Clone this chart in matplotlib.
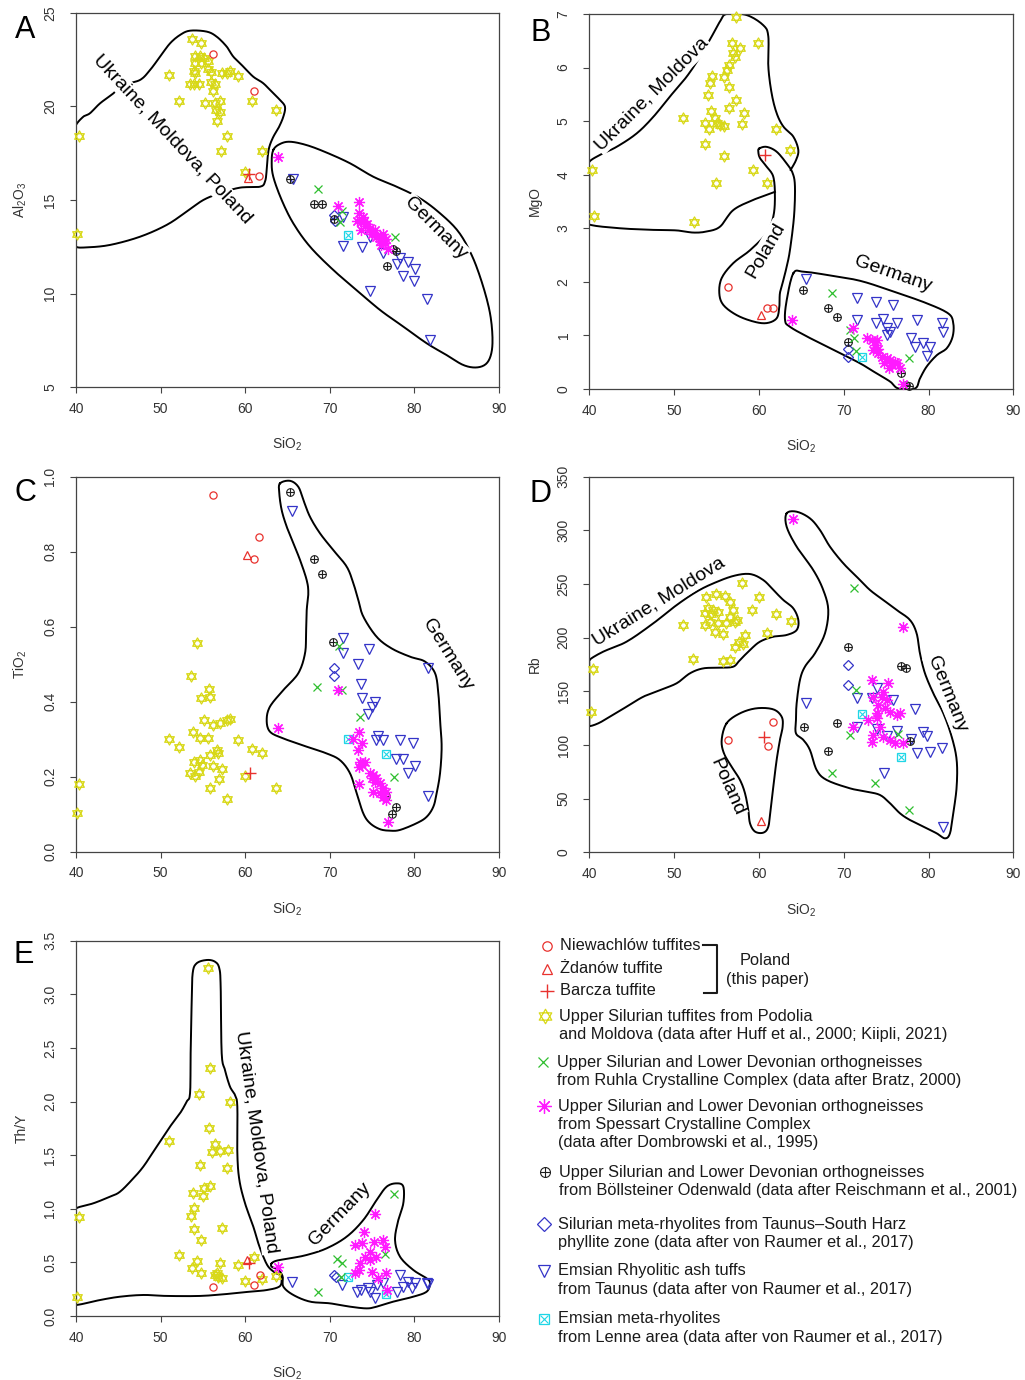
import numpy as np
import matplotlib
matplotlib.use("Agg")
import matplotlib.pyplot as plt
from matplotlib.path import Path

plt.rcParams['font.family'] = ['Liberation Sans', 'DejaVu Sans']
plt.rcParams['mathtext.fontset'] = 'custom'
plt.rcParams['mathtext.rm'] = 'Liberation Sans'
plt.rcParams['mathtext.it'] = 'Liberation Sans'

# ---------------- data (SiO2, y) ----------------
# A: Al2O3
A_niew = [(56.2, 22.8), (61.0, 20.8), (61.6, 16.3)]
A_zdan = [(60.3, 16.2)]
A_barcza = [(60.5, 16.4)]
A_podolia = [(53.7, 23.6), (54.8, 23.4), (54.1, 22.7), (54.7, 22.7), (55.1, 22.6), (54.1, 22.3),
             (54.8, 22.3), (55.6, 22.4), (53.9, 21.9), (54.1, 21.8), (55.6, 22.0), (55.9, 21.85),
             (57.3, 21.8), (57.9, 21.8), (58.2, 21.9), (59.2, 21.6), (51.0, 21.7), (53.5, 21.2),
             (54.0, 21.2), (54.5, 21.2), (55.9, 21.3), (56.4, 21.2), (56.2, 20.8), (52.2, 20.3),
             (55.2, 20.2), (56.4, 20.2), (57.0, 20.3), (60.8, 20.3), (56.6, 19.8), (57.0, 19.7),
             (63.6, 19.8), (56.7, 19.2), (57.8, 18.4), (40.4, 18.4), (57.1, 17.6), (62.0, 17.6),
             (60.0, 16.5), (40.1, 13.2)]
A_ruhla = [(68.6, 15.6), (71.4, 14.4), (71.2, 13.8), (77.7, 13.0)]
A_spessart = [(63.9, 17.3), (71.0, 14.7), (73.4, 14.9), (73.5, 14.3), (73.2, 13.9), (73.7, 13.8),
              (74.0, 13.9), (74.2, 13.6), (73.7, 13.4), (74.6, 13.4), (75.0, 13.2), (75.3, 13.4),
              (75.5, 13.0), (75.9, 13.1), (76.3, 13.2), (76.7, 12.9), (76.5, 12.7), (76.9, 12.4),
              (75.9, 12.8), (75.1, 13.3), (74.4, 13.7), (73.9, 14.1), (74.8, 13.5), (76.0, 12.6)]
A_bolls = [(65.3, 16.1), (68.1, 14.8), (69.1, 14.8), (70.5, 14.0), (77.5, 12.4), (77.8, 12.3),
           (76.8, 11.5)]
A_taunus = [(70.5, 14.2), (70.6, 13.9)]
A_emsian = [(65.7, 16.1), (71.6, 14.1), (71.6, 12.55), (73.8, 12.5), (74.75, 13.0), (76.3, 12.15),
            (77.9, 11.6), (78.3, 11.9), (79.3, 11.7), (80.1, 11.3), (78.7, 10.95), (79.9, 10.65),
            (74.75, 10.15), (81.5, 9.7), (81.8, 7.5)]
A_lenne = [(72.1, 13.15)]

# B: MgO
B_niew = [(56.3, 1.90), (61.0, 1.51), (61.7, 1.51)]
B_zdan = [(60.3, 1.38)]
B_barcza = [(60.7, 4.37)]
B_podolia = [(57.3, 6.94), (56.8, 6.46), (59.9, 6.46), (57.8, 6.37), (57.0, 6.27), (57.2, 6.20),
             (56.5, 6.05), (56.2, 5.95), (54.5, 5.84), (55.9, 5.83), (56.5, 5.63), (54.2, 5.71),
             (57.3, 5.39), (53.95, 5.48), (58.2, 5.15), (56.5, 5.24), (51.1, 5.05), (54.3, 5.18),
             (54.8, 5.05), (55.0, 4.96), (55.4, 4.93), (55.9, 4.90), (53.7, 4.96), (54.1, 4.85),
             (58.0, 4.95), (62.0, 4.85), (53.7, 4.57), (63.7, 4.47), (55.9, 4.34), (59.3, 4.08),
             (40.3, 4.08), (60.9, 3.84), (54.9, 3.84), (40.5, 3.22), (52.3, 3.12)]
B_ruhla = [(68.6, 1.79), (70.7, 1.10), (71.2, 0.96), (71.5, 0.70), (77.7, 0.58)]
B_spessart = [(63.9, 1.29), (71.1, 1.13), (72.7, 0.96), (73.3, 0.91), (73.9, 0.91), (73.7, 0.82),
              (73.5, 0.73), (74.1, 0.67), (74.5, 0.60), (75.1, 0.57), (75.5, 0.54), (74.7, 0.48),
              (75.7, 0.45), (76.25, 0.48), (76.6, 0.39), (75.3, 0.39), (77.0, 0.09), (76.0, 0.50),
              (74.0, 0.75)]
B_bolls = [(65.2, 1.85), (68.2, 1.51), (69.25, 1.35), (70.5, 0.88), (76.8, 0.29), (77.4, 0.07),
           (77.75, 0.06)]
B_taunus = [(70.5, 0.74), (70.5, 0.59)]
B_emsian = [(65.55, 2.05), (71.6, 1.69), (73.8, 1.63), (75.85, 1.57), (71.6, 1.28), (73.8, 1.24),
            (74.67, 1.30), (75.06, 1.13), (75.45, 1.07), (75.14, 1.01), (76.3, 1.23), (78.6, 1.29),
            (81.55, 1.23), (81.75, 1.07), (77.9, 0.96), (78.4, 0.79), (79.4, 0.85), (80.2, 0.79),
            (79.86, 0.62)]
B_lenne = [(72.1, 0.60)]

# C: TiO2
C_niew = [(56.2, 0.95), (61.6, 0.84), (61.0, 0.78)]
C_zdan = [(60.2, 0.79)]
C_barcza = [(60.6, 0.21)]
C_podolia = [(54.34, 0.557), (53.59, 0.468), (55.76, 0.433), (55.84, 0.412), (54.78, 0.409),
             (55.13, 0.351), (56.23, 0.338), (57.02, 0.342), (57.81, 0.351), (58.2, 0.353),
             (53.87, 0.32), (50.99, 0.30), (54.66, 0.302), (55.64, 0.302), (59.19, 0.298),
             (52.17, 0.28), (56.63, 0.271), (56.83, 0.262), (55.84, 0.258), (60.76, 0.273),
             (61.95, 0.262), (53.99, 0.24), (54.66, 0.244), (54.86, 0.231), (56.23, 0.228),
             (57.21, 0.22), (53.48, 0.209), (54.07, 0.202), (54.54, 0.213), (59.98, 0.202),
             (56.9, 0.193), (55.84, 0.169), (63.64, 0.169), (57.81, 0.14), (40.39, 0.18),
             (40.08, 0.102)]
C_ruhla = [(68.45, 0.44), (71.1, 0.548), (71.4, 0.43), (73.6, 0.36), (77.6, 0.20)]
C_spessart = [(63.9, 0.33), (71.0, 0.43), (73.4, 0.32), (72.8, 0.30), (73.8, 0.29), (73.3, 0.27),
              (73.6, 0.24), (74.2, 0.24), (73.4, 0.227), (73.8, 0.231), (74.75, 0.21),
              (75.15, 0.204), (75.5, 0.196), (74.95, 0.196), (75.3, 0.187), (75.9, 0.182),
              (76.3, 0.169), (73.4, 0.18), (75.15, 0.16), (75.9, 0.156), (76.7, 0.16),
              (76.7, 0.138), (76.3, 0.147), (76.9, 0.08)]
C_bolls = [(65.3, 0.96), (68.1, 0.78), (69.1, 0.74), (70.4, 0.56), (76.7, 0.148), (77.8, 0.12),
           (77.4, 0.10)]
C_taunus = [(70.5, 0.49), (70.5, 0.468)]
C_emsian = [(65.57, 0.909), (71.52, 0.569), (71.6, 0.531), (74.63, 0.54), (73.29, 0.50),
            (73.69, 0.447), (73.77, 0.409), (75.34, 0.40), (74.95, 0.387), (74.55, 0.367),
            (81.57, 0.489), (75.74, 0.308), (75.46, 0.298), (76.33, 0.298), (78.3, 0.298),
            (79.87, 0.289), (77.82, 0.247), (78.61, 0.247), (80.07, 0.228), (79.2, 0.209),
            (81.57, 0.148)]
C_lenne = [(72.1, 0.30), (76.6, 0.26)]

# D: Rb
D_niew = [(56.3, 104.7), (61.7, 121.7), (61.1, 99.4)]
D_zdan = [(60.3, 29.2)]
D_barcza = [(60.6, 107.8)]
D_podolia = [(57.96, 250.6), (53.72, 238.2), (54.94, 240.7), (56.0, 238.8), (60.0, 238.2),
             (56.6, 233.5), (54.0, 227.3), (54.6, 225.8), (53.64, 222.7), (54.4, 222.0),
             (55.2, 224.2), (57.0, 225.8), (56.6, 219.6), (57.4, 216.5), (51.08, 211.8),
             (53.64, 211.8), (54.2, 214.9), (55.2, 213.4), (56.1, 213.4), (57.2, 214.9),
             (59.2, 225.8), (62.0, 221.7), (63.74, 215.8), (54.82, 205.6), (55.8, 203.4),
             (60.91, 204.7), (58.36, 202.5), (57.18, 191.6), (58.08, 194.1), (57.6, 196.3),
             (52.26, 179.8), (55.8, 178.6), (56.6, 179.2), (40.47, 170.5), (40.2, 130.4)]
D_ruhla = [(71.2, 246.0), (71.5, 151.2), (70.7, 109.3), (68.6, 73.6), (73.7, 64.3), (77.7, 39.4),
           (76.4, 110.2)]
D_spessart = [(64.06, 310.2), (76.96, 209.7), (73.3, 160.6), (75.26, 157.5), (74.67, 149.7),
              (73.49, 145.0), (74.08, 137.3), (74.87, 134.2), (75.46, 131.0), (76.25, 127.9),
              (76.64, 129.5), (73.89, 124.9), (72.9, 123.3), (71.13, 117.0), (74.28, 117.0),
              (73.49, 109.3), (74.67, 107.7), (75.46, 104.7), (73.3, 103.1), (76.05, 101.6),
              (76.96, 101.6), (73.89, 129.5), (74.48, 145.0), (75.14, 141.9)]
D_bolls = [(70.5, 191.6), (76.8, 173.6), (77.4, 171.5), (65.3, 117.0), (69.25, 120.8),
           (68.2, 94.7), (77.8, 103.7)]
D_taunus = [(70.5, 174.5), (70.5, 155.9)]
D_emsian = [(65.6, 139.4), (71.6, 143.5), (73.9, 152.8), (73.3, 143.5), (75.85, 141.9),
            (78.4, 133.3), (71.6, 117.0), (73.9, 114.6), (75.1, 108.4), (76.3, 113.3),
            (77.9, 105.3), (79.3, 112.4), (79.8, 108.4), (78.6, 92.3), (80.2, 93.7),
            (81.6, 96.9), (74.8, 74.2), (81.75, 23.9)]
D_lenne = [(72.1, 128.9), (76.7, 88.5)]

# E: Th/Y
E_niew = [(56.2, 0.274), (61.0, 0.289), (61.7, 0.382)]
E_zdan = [(60.2, 0.522)]
E_barcza = [(60.5, 0.491)]
E_podolia = [(55.64, 3.248), (55.84, 2.316), (54.54, 2.07), (58.2, 1.999), (51.03, 1.635),
             (55.76, 1.75), (56.43, 1.604), (56.03, 1.526), (57.02, 1.542), (58.0, 1.548),
             (54.66, 1.408), (57.81, 1.377), (55.84, 1.215), (55.13, 1.19), (53.87, 1.15),
             (54.98, 1.119), (53.99, 1.004), (53.55, 0.933), (53.99, 0.808), (57.22, 0.818),
             (54.78, 0.709), (40.35, 0.926), (52.17, 0.569), (54.26, 0.516), (57.02, 0.497),
             (53.67, 0.445), (54.78, 0.404), (56.43, 0.382), (56.82, 0.36), (56.63, 0.404),
             (57.22, 0.351), (59.19, 0.476), (61.04, 0.547), (59.98, 0.326), (61.95, 0.342),
             (63.64, 0.373), (40.16, 0.18)]
E_ruhla = [(77.6, 1.137), (70.8, 0.528), (71.5, 0.497), (68.6, 0.227), (76.5, 0.578), (71.3, 0.361)]
E_spessart = [(63.9, 0.46), (75.3, 0.951), (74.0, 0.786), (73.0, 0.662), (73.8, 0.678),
              (75.2, 0.693), (76.3, 0.709), (76.5, 0.646), (74.75, 0.60), (74.2, 0.553),
              (75.5, 0.553), (73.6, 0.491), (73.4, 0.429), (74.95, 0.413), (76.7, 0.404),
              (75.7, 0.351), (76.8, 0.243), (74.75, 0.522), (73.0, 0.398)]
E_bolls = []
E_taunus = [(70.5, 0.382), (70.7, 0.361)]
E_emsian = [(65.5, 0.32), (71.4, 0.289), (73.25, 0.227), (73.65, 0.243), (74.55, 0.258),
            (74.75, 0.227), (75.34, 0.165), (75.54, 0.289), (76.3, 0.305), (77.9, 0.227),
            (78.3, 0.382), (78.6, 0.268), (79.3, 0.32), (79.7, 0.258), (80.1, 0.311),
            (81.45, 0.311), (81.65, 0.298)]
E_lenne = [(72.1, 0.361), (76.7, 0.205)]

# ---------------- field outlines ----------------
A_ukr = [(40, 12.51), (41.26, 12.47), (44.02, 12.6), (47.57, 13.04), (50.72, 13.67), (53.08, 14.38),
         (55.05, 15.0), (57.02, 15.36), (59.39, 15.66), (61.75, 15.71), (62.34, 15.98),
         (62.54, 16.6), (62.66, 17.31), (62.86, 17.85), (63.33, 18.38), (63.92, 18.83),
         (64.51, 19.45), (64.7, 19.98), (64.11, 20.34), (63.33, 20.69), (62.14, 21.23),
         (60.96, 21.58), (59.78, 22.12), (58.6, 22.65), (57.81, 23.19), (56.63, 23.72),
         (55.45, 23.99), (53.48, 24.04), (52.29, 23.81), (51.11, 23.36), (49.93, 22.65),
         (48.75, 21.94), (47.57, 21.41), (45.6, 21.14), (44.41, 20.69), (42.84, 20.16),
         (41.65, 19.63), (40.87, 19.45), (40.0, 19.0), (40.0, 18.6), (40.0, 12.9)]
A_ger = [(63.32, 17.67), (64.11, 17.99), (65.3, 18.11), (67.27, 17.93), (69.63, 17.53),
         (72.39, 16.96), (75.15, 16.24), (77.9, 15.71), (80.66, 15.09), (83.03, 14.29),
         (85.2, 13.31), (86.77, 12.06), (87.95, 10.64), (88.86, 9.13), (89.21, 7.88),
         (89.13, 6.9), (88.54, 6.28), (87.36, 6.06), (85.78, 6.19), (83.81, 6.72), (81.45, 7.35),
         (78.69, 8.24), (75.93, 9.13), (73.17, 10.19), (70.42, 11.26), (67.66, 12.51),
         (65.69, 13.75), (64.31, 15.0), (63.32, 16.24), (63.13, 17.04)]

B_ukr = [(61.89, 3.68), (59.34, 3.53), (56.98, 3.34), (55.41, 3.03), (53.84, 2.94), (52.26, 2.92),
         (50.3, 2.96), (47.55, 2.97), (43.62, 3.0), (40.0, 3.07), (40.0, 3.2), (40.0, 4.1),
         (40.0, 4.24), (41.26, 4.37),
         (43.22, 4.52), (45.58, 4.77), (47.55, 5.08), (49.51, 5.46), (51.48, 5.83), (53.05, 6.2),
         (54.43, 6.58), (55.41, 6.86), (56.19, 7.0), (58.55, 6.98), (60.52, 6.79), (61.11, 6.58),
         (61.11, 6.02), (61.5, 5.52), (62.09, 5.15), (62.88, 4.9), (64.06, 4.71), (64.65, 4.46),
         (64.37, 4.27), (63.74, 4.09)]
B_pol = [(60.05, 4.49), (60.91, 4.52), (62.09, 4.43), (63.27, 4.21), (63.98, 4.03), (64.25, 3.78),
         (64.14, 3.22), (63.66, 2.59), (63.27, 2.28), (62.88, 2.03), (62.48, 1.79), (62.41, 1.54),
         (62.09, 1.32), (60.91, 1.23), (59.34, 1.26), (57.37, 1.38), (55.8, 1.57), (55.33, 1.79),
         (55.61, 2.07), (56.98, 2.35), (58.95, 2.59), (60.91, 2.91), (61.7, 3.22), (61.89, 3.59),
         (61.7, 3.96), (60.91, 4.15), (60.13, 4.31), (59.93, 4.43)]
B_ger = [(64.06, 2.16), (65.24, 2.19), (68.0, 2.13), (71.92, 2.02), (75.85, 1.82), (79.79, 1.6),
         (82.33, 1.41), (82.92, 1.23), (82.85, 0.98), (82.15, 0.76), (80.97, 0.63), (79.79, 0.42),
         (79.0, 0.2), (78.41, 0.01), (76.44, 0.01), (75.46, 0.14), (73.89, 0.29), (71.92, 0.48),
         (69.17, 0.7), (66.03, 0.95), (63.67, 1.16), (63.08, 1.29), (63.28, 1.66)]

C_ger = [(64.11, 0.982), (65.3, 0.989), (66.28, 0.973), (66.87, 0.938), (67.66, 0.893),
         (68.84, 0.849), (70.42, 0.804), (72.0, 0.76), (72.78, 0.716), (73.37, 0.671),
         (73.96, 0.627), (75.54, 0.573), (77.31, 0.542), (79.48, 0.52), (81.25, 0.507),
         (82.44, 0.476), (82.83, 0.422), (83.03, 0.351), (83.22, 0.28), (83.03, 0.209),
         (82.63, 0.156), (82.24, 0.12), (81.45, 0.093), (80.27, 0.076), (78.3, 0.058),
         (77.12, 0.056), (75.93, 0.06), (74.75, 0.076), (73.96, 0.102), (73.18, 0.156),
         (72.39, 0.209), (71.21, 0.244), (69.63, 0.262), (67.27, 0.28), (64.51, 0.302),
         (62.93, 0.32), (62.54, 0.351), (62.93, 0.387), (64.51, 0.431), (66.28, 0.476),
         (67.07, 0.529), (67.19, 0.582), (67.27, 0.644), (67.46, 0.689), (67.27, 0.724),
         (66.48, 0.778), (65.69, 0.822), (64.9, 0.867), (64.31, 0.911), (64.03, 0.956)]

D_ukr = [(40, 179.2), (41.65, 187.0), (44.4, 196.3), (47.55, 213.4), (50.3, 230.4), (52.66, 242.9),
         (54.62, 250.6), (56.98, 257.5), (58.95, 259.3), (60.52, 253.7), (61.7, 244.4),
         (62.88, 235.1), (64.06, 227.3), (64.65, 216.5), (64.45, 207.1), (63.27, 202.5),
         (61.7, 200.9), (60.13, 196.3), (58.95, 188.5), (57.77, 179.2), (56.98, 173.0),
         (55.41, 172.0), (53.44, 171.4), (51.87, 166.8), (50.3, 157.5), (48.33, 151.2),
         (46.37, 145.0), (44.4, 135.7), (42.44, 126.4), (41.06, 120.2), (40.0, 117.7),
         (40.0, 122.0), (40.0, 175.0)]
D_pol = [(56.19, 120.2), (57.77, 129.5), (59.73, 134.2), (61.7, 133.2), (62.68, 126.4),
         (62.8, 117.1), (62.48, 104.7), (62.09, 86.0), (61.7, 61.2), (61.38, 39.4), (61.11, 23.9),
         (60.52, 18.3), (59.54, 19.3), (58.95, 27.0), (58.75, 39.4), (58.36, 55.0), (57.77, 67.4),
         (56.78, 79.8), (55.88, 92.2), (55.61, 104.7)]
D_ger = [(63.27, 315.8), (64.45, 317.4), (66.02, 311.2), (67.2, 300.3), (68.38, 284.8),
         (69.95, 269.3), (71.53, 256.8), (73.1, 244.4), (74.67, 235.1), (76.24, 225.8),
         (77.81, 216.5), (78.6, 204.0), (78.99, 185.4), (79.58, 166.8), (80.57, 148.1),
         (81.75, 129.5), (82.73, 107.8), (83.32, 86.0), (83.32, 61.2), (82.92, 36.3),
         (82.53, 17.7), (81.94, 13.0), (80.96, 17.7), (79.39, 23.9), (77.81, 30.1), (76.64, 36.3),
         (75.46, 45.7), (74.28, 53.4), (72.7, 56.5), (70.74, 59.6), (67.99, 67.4), (66.81, 76.7),
         (66.02, 95.3), (65.24, 104.7), (64.37, 110.9), (64.37, 123.3), (64.45, 138.8),
         (64.84, 160.6), (65.43, 173.0), (66.61, 185.4), (67.79, 204.0), (68.18, 225.8),
         (67.59, 244.4), (66.41, 263.0), (64.45, 284.8), (63.27, 303.4)]

E_ukr = [(40, 1.004), (42.05, 1.051), (44.02, 1.113), (45.2, 1.159), (46.78, 1.284), (47.96, 1.393),
         (49.14, 1.532), (50.32, 1.672), (51.11, 1.766), (52.29, 1.89), (53.08, 1.999),
         (53.48, 2.077), (53.55, 2.45), (53.67, 2.916), (53.79, 3.196), (54.26, 3.289),
         (55.45, 3.32), (56.43, 3.304), (56.94, 3.242), (57.1, 3.071), (57.22, 2.45),
         (57.61, 2.294), (58.2, 2.139), (58.79, 2.061), (59.07, 1.952), (59.07, 1.517),
         (59.31, 1.268), (59.98, 1.051), (60.96, 0.833), (61.55, 0.678), (62.14, 0.553),
         (62.73, 0.46), (63.52, 0.404), (64.11, 0.382), (64.31, 0.336), (64.03, 0.274),
         (62.54, 0.242), (60.57, 0.227), (57.81, 0.205), (54.66, 0.187), (50.72, 0.187),
         (47.96, 0.196), (45.2, 0.18), (42.84, 0.149), (40, 0.103), (40, 0.15), (40, 0.95)]
E_ger = [(63.13, 0.491), (63.72, 0.516), (65.3, 0.538), (67.27, 0.569), (69.63, 0.631),
         (72.0, 0.74), (73.96, 0.895), (75.54, 1.082), (76.72, 1.206), (77.9, 1.237),
         (78.69, 1.206), (78.69, 1.051), (78.1, 0.895), (77.71, 0.709), (78.3, 0.553),
         (79.87, 0.429), (81.45, 0.351), (81.84, 0.305), (81.45, 0.227), (79.87, 0.18),
         (77.51, 0.134), (75.54, 0.087), (74.36, 0.071), (72.39, 0.087), (70.02, 0.118),
         (67.66, 0.134), (65.69, 0.196), (64.51, 0.274), (64.43, 0.367), (63.92, 0.429),
         (63.13, 0.46)]

# ---------------- styles ----------------
RED = '#e8322e'
YEL = '#d8d818'
GRN = '#2fbf2f'
MAG = '#ff1aff'
BLK = '#1e1e1e'
BLU = '#3434c8'
CYA = '#1fd6e6'

star6 = Path([(0, 1), (-0.866, -0.5), (0.866, -0.5), (0, 1),
              (0, -1), (-0.866, 0.5), (0.866, 0.5), (0, -1)],
             [Path.MOVETO, Path.LINETO, Path.LINETO, Path.CLOSEPOLY,
              Path.MOVETO, Path.LINETO, Path.LINETO, Path.CLOSEPOLY])


def put(ax, pts, kind, k=1.0):
    if len(pts) == 0:
        return
    x, y = np.array(pts).T
    kw = dict(ls='none', mfc='none', clip_on=False, zorder=3)
    if kind == 'niew':
        ax.plot(x, y, 'o', mec=RED, ms=5.2 * k, mew=0.9, **kw)
    elif kind == 'zdan':
        ax.plot(x, y, '^', mec=RED, ms=6 * k, mew=0.9, **kw)
    elif kind == 'barcza':
        ax.plot(x, y, '+', mec=RED, ms=8 * k, mew=1.0, **kw)
    elif kind == 'podolia':
        ax.plot(x, y, marker=star6, mec=YEL, ms=8 * k, mew=0.9, **kw)
    elif kind == 'ruhla':
        ax.plot(x, y, 'x', mec=GRN, ms=5.5 * k, mew=0.9, **kw)
    elif kind == 'spessart':
        ax.plot(x, y, marker=(8, 2, 0), mec=MAG, ms=8 * k, mew=0.9, **kw)
    elif kind == 'bolls':
        ax.plot(x, y, 'o', mec=BLK, ms=5.5 * k, mew=0.8, **kw)
        ax.plot(x, y, '+', mec=BLK, ms=5.5 * k, mew=0.8, **kw)
    elif kind == 'taunus':
        ax.plot(x, y, 'D', mec=BLU, ms=5.2 * k, mew=0.9, **kw)
    elif kind == 'emsian':
        ax.plot(x, y, 'v', mec=BLU, ms=6.8 * k, mew=0.9, **kw)
    elif kind == 'lenne':
        ax.plot(x, y, 's', mec=CYA, ms=5.2 * k, mew=0.9, **kw)
        ax.plot(x, y, 'x', mec=CYA, ms=4.0 * k, mew=0.8, **kw)


def smooth(pts, closed=True, n=10):
    # Catmull-Rom through the digitised outline vertices
    p = np.asarray(pts, float)
    if closed:
        p = np.vstack([p[-1], p, p[0], p[1]])
    else:
        p = np.vstack([p[0], p, p[-1]])
    t = np.linspace(0, 1, n, endpoint=False)[:, None]
    out = []
    for i in range(1, len(p) - 2):
        p0, p1, p2, p3 = p[i - 1], p[i], p[i + 1], p[i + 2]
        out.append(0.5 * (2 * p1 + (-p0 + p2) * t + (2 * p0 - 5 * p1 + 4 * p2 - p3) * t ** 2
                          + (-p0 + 3 * p1 - 3 * p2 + p3) * t ** 3))
    out.append(p[-2][None])
    return np.vstack(out)


def outline(ax, pts, closed=True):
    s = smooth(pts, closed)
    ax.plot(s[:, 0], s[:, 1], color='black', lw=1.4, zorder=1, solid_joinstyle='round')


def label(ax, txt, x, y, rot):
    ax.text(x, y, txt, rotation=rot, ha='center', va='center', fontsize=14, zorder=2,
            bbox=dict(fc='white', ec='none', pad=1.0))


order = ['podolia', 'emsian', 'taunus', 'lenne', 'bolls', 'ruhla', 'spessart', 'niew', 'zdan', 'barcza']

panels = [
    dict(rect=[0.07415, 0.71935, 0.41268, 0.27145], ylim=(5, 25), yt=[5, 10, 15, 20, 25], fmt='%d',
         ylab=r'Al$_2$O$_3$', letter='A', lpos=(25, 30),
         data=dict(niew=A_niew, zdan=A_zdan, barcza=A_barcza, podolia=A_podolia, ruhla=A_ruhla,
                   spessart=A_spessart, bolls=A_bolls, taunus=A_taunus, emsian=A_emsian, lenne=A_lenne),
         shapes=[(A_ukr, True), (A_ger, True)],
         labels=[('Ukraine, Moldova, Poland', 51.4, 18.24, -47), ('Germany', 82.5, 13.5, -45)]),
    dict(rect=[0.57493, 0.71812, 0.41366, 0.27174], ylim=(0, 7), yt=list(range(8)), fmt='%d',
         ylab='MgO', letter='B', lpos=(541, 33),
         data=dict(niew=B_niew, zdan=B_zdan, barcza=B_barcza, podolia=B_podolia, ruhla=B_ruhla,
                   spessart=B_spessart, bolls=B_bolls, taunus=B_taunus, emsian=B_emsian, lenne=B_lenne),
         shapes=[(B_ukr, False), (B_pol, True), (B_ger, True)],
         labels=[('Ukraine, Moldova', 47.36, 5.51, 45), ('Poland', 60.82, 2.59, 60),
                 ('Germany', 75.8, 2.15, -19)]),
    dict(rect=[0.07415, 0.38283, 0.41268, 0.27174], ylim=(0, 1), yt=[0, 0.2, 0.4, 0.6, 0.8, 1.0],
         fmt='%.1f', ylab=r'TiO$_2$', letter='C', lpos=(25, 493),
         data=dict(niew=C_niew, zdan=C_zdan, barcza=C_barcza, podolia=C_podolia, ruhla=C_ruhla,
                   spessart=C_spessart, bolls=C_bolls, taunus=C_taunus, emsian=C_emsian, lenne=C_lenne),
         shapes=[(C_ger, True)],
         labels=[('Germany', 83.97, 0.525, -58)]),
    dict(rect=[0.57493, 0.38239, 0.41366, 0.27217], ylim=(0, 350), yt=list(range(0, 351, 50)),
         fmt='%d', ylab='Rb', letter='D', lpos=(541, 494),
         data=dict(niew=D_niew, zdan=D_zdan, barcza=D_barcza, podolia=D_podolia, ruhla=D_ruhla,
                   spessart=D_spessart, bolls=D_bolls, taunus=D_taunus, emsian=D_emsian, lenne=D_lenne),
         shapes=[(D_ukr, True), (D_pol, True), (D_ger, True)],
         labels=[('Ukraine, Moldova', 48.22, 233.2, 32), ('Poland', 56.2, 61.1, -66),
                 ('Germany', 82.15, 147.5, -68)]),
    dict(rect=[0.07415, 0.04638, 0.41268, 0.27196], ylim=(0, 3.5), yt=[0, 0.5, 1, 1.5, 2, 2.5, 3, 3.5],
         fmt='%.1f', ylab='Th/Y', letter='E', lpos=(24, 955),
         data=dict(niew=E_niew, zdan=E_zdan, barcza=E_barcza, podolia=E_podolia, ruhla=E_ruhla,
                   spessart=E_spessart, bolls=E_bolls, taunus=E_taunus, emsian=E_emsian, lenne=E_lenne),
         shapes=[(E_ukr, True), (E_ger, True)],
         labels=[('Ukraine, Moldova, Poland', 61.28, 1.625, -82), ('Germany', 71.2, 0.95, 46)]),
]

fig = plt.figure(figsize=(10.25, 13.8), dpi=100)
W, H = 1025.0, 1380.0

for pnl in panels:
    ax = fig.add_axes(pnl['rect'])
    ax.set_xlim(40, 90)
    ax.set_ylim(*pnl['ylim'])
    ax.set_xticks([40, 50, 60, 70, 80, 90])
    ax.set_yticks(pnl['yt'])
    ax.set_yticklabels([pnl['fmt'] % v for v in pnl['yt']])
    for sp in ax.spines.values():
        sp.set_color('#444444')
        sp.set_linewidth(0.9)
    ax.tick_params(length=4.5, width=0.8, color='#444444', labelsize=10, labelcolor='#333333')
    ax.tick_params(axis='x', pad=6)
    ax.tick_params(axis='y', pad=9)
    for t in ax.get_yticklabels():
        t.set_rotation(90)
        t.set_va('center')
    ax.set_xlabel(r'SiO$_2$', fontsize=10, color='#333333')
    ax.set_ylabel(pnl['ylab'], fontsize=10, color='#333333')
    ax.xaxis.set_label_coords(0.5, -0.13)
    ax.yaxis.set_label_coords(-0.112, 0.5)

    for shp, closed in pnl['shapes']:
        outline(ax, shp, closed)
    for txt, lx, ly, rot in pnl['labels']:
        label(ax, txt, lx, ly, rot)
    for kind in order:
        put(ax, pnl['data'][kind], kind)

    fig.text(pnl['lpos'][0] / W, 1 - pnl['lpos'][1] / H, pnl['letter'], fontsize=22,
             ha='center', va='center')

# ---------------- legend block ----------------
lg = fig.add_axes([520 / W, 1 - 1352 / H, 505 / W, 422 / H])
lg.set_xlim(520, 1025)
lg.set_ylim(1352, 930)
lg.axis('off')

entries = [
    ('niew', 546.5, 946, ['Niewachlów tuffites']),
    ('zdan', 546.5, 968.5, ['Żdanów tuffite']),
    ('barcza', 546.5, 990.5, ['Barcza tuffite']),
    ('podolia', 545, 1016, ['Upper Silurian tuffites from Podolia',
                            'and Moldova (data after Huff et al., 2000; Kiipli, 2021)']),
    ('ruhla', 543, 1062, ['Upper Silurian and Lower Devonian orthogneisses',
                          'from Ruhla Crystalline Complex (data after Bratz, 2000)']),
    ('spessart', 544, 1106, ['Upper Silurian and Lower Devonian orthogneisses',
                             'from Spessart Crystalline Complex',
                             '(data after Dombrowski et al., 1995)']),
    ('bolls', 545, 1172, ['Upper Silurian and Lower Devonian orthogneisses',
                          'from Böllsteiner Odenwald (data after Reischmann et al., 2001)']),
    ('taunus', 544, 1224, ['Silurian meta-rhyolites from Taunus–South Harz',
                           'phyllite zone (data after von Raumer et al., 2017)']),
    ('emsian', 544, 1271, ['Emsian Rhyolitic ash tuffs',
                           'from Taunus (data after von Raumer et al., 2017)']),
    ('lenne', 543.5, 1319, ['Emsian meta-rhyolites',
                            'from Lenne area (data after von Raumer et al., 2017)']),
]
for kind, mx, my, lines in entries:
    put(lg, [(mx, my)], kind, k=1.3)
    tx = mx + 14
    for i, ln in enumerate(lines):
        lg.text(tx, my + i * 18.4, ln, fontsize=11.8, ha='left', va='center', color='#1a1a1a')

# bracket grouping the Polish samples
lg.plot([703, 716.5, 716.5, 704], [945, 945, 992.5, 992.5], color='#1a1a1a', lw=1.5)
lg.text(765, 960.5, 'Poland', fontsize=11.8, ha='center', va='center', color='#1a1a1a')
lg.text(768, 979.5, '(this paper)', fontsize=11.8, ha='center', va='center', color='#1a1a1a')

fig.savefig('out.png', dpi=100)
